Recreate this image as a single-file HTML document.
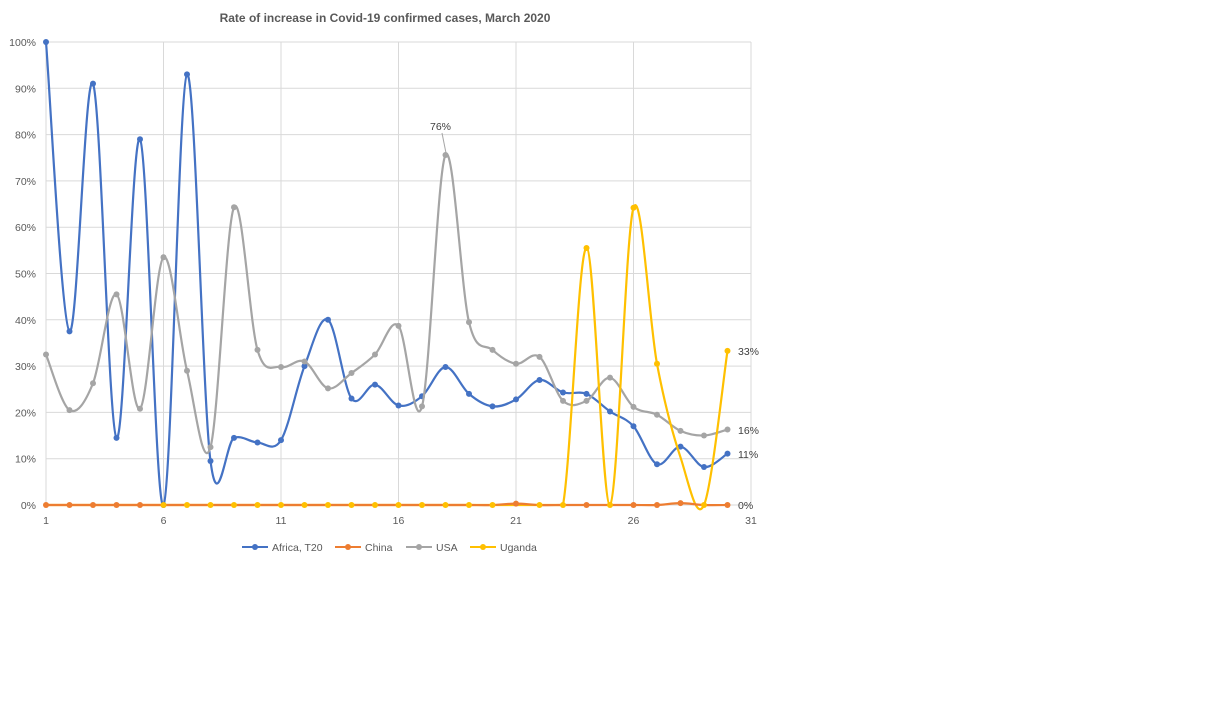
<!DOCTYPE html>
<html><head><meta charset="utf-8"><style>
body{margin:0;background:#fff;width:1230px;height:716px;overflow:hidden}
text{font-family:"Liberation Sans",sans-serif}
</style></head><body>
<svg id="s" width="1230" height="716" xmlns="http://www.w3.org/2000/svg">
<text x="385" y="22" text-anchor="middle" font-size="12" font-weight="bold" fill="#595959">Rate of increase in Covid-19 confirmed cases, March 2020</text>
<g id="grid"></g>
<g id="series"></g>
<g font-size="10.5" fill="#404040">
<text x="430" y="130">76%</text>
<line x1="442" y1="133" x2="446" y2="153" stroke="#a5a5a5" stroke-width="1"/>
<text x="738" y="355">33%</text>
<text x="738" y="434">16%</text>
<text x="738" y="458">11%</text>
<text x="738" y="509">0%</text>
</g>
<g font-size="10.5" fill="#595959">
<line x1="242" y1="547" x2="268" y2="547" stroke="#4472c4" stroke-width="2"/><circle cx="255" cy="547" r="3" fill="#4472c4"/><text x="272" y="551">Africa, T20</text>
<line x1="335" y1="547" x2="361" y2="547" stroke="#ed7d31" stroke-width="2"/><circle cx="348" cy="547" r="3" fill="#ed7d31"/><text x="365" y="551">China</text>
<line x1="406" y1="547" x2="432" y2="547" stroke="#a5a5a5" stroke-width="2"/><circle cx="419" cy="547" r="3" fill="#a5a5a5"/><text x="436" y="551">USA</text>
<line x1="470" y1="547" x2="496" y2="547" stroke="#ffc000" stroke-width="2"/><circle cx="483" cy="547" r="3" fill="#ffc000"/><text x="500" y="551">Uganda</text>
</g>
</svg>
<script>
const NS="http://www.w3.org/2000/svg";
const X=d=>46+(d-1)*23.5, Y=v=>505-v*4.63;
const g=document.getElementById('grid'), s=document.getElementById('series');
function el(p,t,a){const e=document.createElementNS(NS,t);for(const k in a)e.setAttribute(k,a[k]);p.appendChild(e);return e;}
for(let i=0;i<=10;i++){const y=Y(i*10);
 el(g,'line',{x1:46,x2:751,y1:y,y2:y,stroke:'#d9d9d9','stroke-width':1});
 const t=el(g,'text',{x:36,y:y+4,'text-anchor':'end','font-size':'10.5',fill:'#595959'});t.textContent=(i*10)+'%';}
for(let d=1;d<=31;d+=5){const x=X(d);
 el(g,'line',{x1:x,x2:x,y1:42,y2:505,stroke:'#d9d9d9','stroke-width':1});
 const t=el(g,'text',{x:x,y:524,'text-anchor':'middle','font-size':'10.5',fill:'#595959'});t.textContent=d;}
const af=[100,37.5,91,14.5,79,0,93,9.5,14.5,13.5,14,30,40,23,26,21.5,23.5,29.8,24,21.3,22.8,27,24.3,24,20.2,17,8.8,12.6,8.2,11.1];
const us=[32.5,20.5,26.3,45.5,20.8,53.5,29,12.5,64.3,33.5,29.8,31,25.2,28.5,32.5,38.7,21.3,75.6,39.5,33.5,30.5,32,22.5,22.5,27.5,21.2,19.5,16,15,16.3];
const ug=[];for(let i=0;i<23;i++)ug.push(0);ug.push(55.5,0,64.2,30.5,10.3,0,33.3);
const ch=Array(30).fill(0);ch[20]=0.3;ch[27]=0.4;
function line(data,col,clampUntil){
 const P=data.map((v,i)=>[X(i+1),Y(v)]);
 let d='M'+P[0][0]+','+P[0][1];const t=1/6;
 for(let i=0;i<P.length-1;i++){
  const p0=P[Math.max(0,i-1)],p1=P[i],p2=P[i+1],p3=P[Math.min(P.length-1,i+2)];
  const c1=[p1[0]+(p2[0]-p0[0])*t,p1[1]+(p2[1]-p0[1])*t];
  const c2=[p2[0]-(p3[0]-p1[0])*t,p2[1]-(p3[1]-p1[1])*t];
  if(i<clampUntil){c1[1]=Math.min(c1[1],505);c2[1]=Math.min(c2[1],505);}
  d+=` C${c1[0]},${c1[1]} ${c2[0]},${c2[1]} ${p2[0]},${p2[1]}`;}
 el(s,'path',{d:d,fill:'none',stroke:col,'stroke-width':2.2});
 return P;
}
function dots(P,col,f){P.forEach((p,i)=>{if(!f||f(i))el(s,'circle',{cx:p[0],cy:p[1],r:3,fill:col});});}
const Pa=line(af,'#4472c4',0);dots(Pa,'#4472c4');
const Pu=line(us,'#a5a5a5',0);dots(Pu,'#a5a5a5');
const Pg=line(ug,'#ffc000',24);
const Pc=line(ch,'#ed7d31',0);
const yel=new Set([5,6,7,8,9,10,11,12,13,14,15,16,17,18,19,21,22,23,24,25,26,28,29]);
dots(Pc,'#ed7d31',i=>!yel.has(i)||i==23||i==25||i==26||i==27||i==29);
dots(Pg,'#ffc000',i=>yel.has(i));
</script>
</body></html>
